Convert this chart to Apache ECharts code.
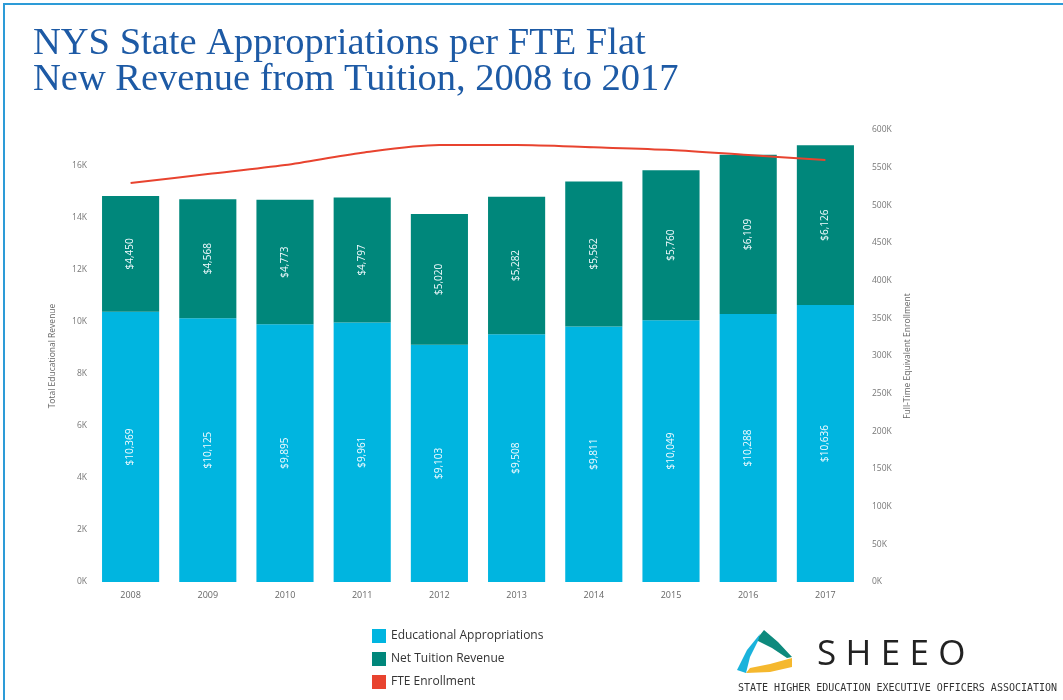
<!DOCTYPE html>
<html>
<head>
<meta charset="utf-8">
<title>NYS State Appropriations per FTE</title>
<script src="https://cdn.jsdelivr.net/npm/echarts@6/dist/echarts.min.js"></script>
<style>
    html, body { margin: 0; padding: 0; background: #fff; }
    #chart { width: 1063px; height: 700px; }
</style>
</head>
<body>
<div id="chart"></div>
<script>
// 数据
var years = ['2008', '2009', '2010', '2011', '2012', '2013', '2014', '2015', '2016', '2017'];
var appropriations = [10369, 10125, 9895, 9961, 9103, 9508, 9811, 10049, 10288, 10636];
var tuition = [4450, 4568, 4773, 4797, 5020, 5282, 5562, 5760, 6109, 6126];
// FTE 从图上估读
var enrollment = [529600, 541600, 553500, 569900, 580100, 580000, 577000, 573500, 566800, 560200];

var cyan = '#00b5e0';
var teal = '#00877b';
var red = '#e8432f';

function kFormat(v) {
    return (v / 1000) + 'K';
}

function money(p) {
    return '$' + p.value.toLocaleString('en-US');
}

var chart = echarts.init(document.getElementById('chart'));

var barLabel = {
    show: true,
    position: 'inside',
    rotate: 90,
    color: '#f2fbff',
    fontSize: 10,
    fontFamily: 'Open Sans',
    formatter: money
};

var option = {
    animation: false,
    title: {
        text: 'NYS State Appropriations per FTE Flat\nNew Revenue from Tuition, 2008 to 2017',
        left: 28,
        top: 21,
        textStyle: {
            fontFamily: 'Liberation Serif',
            fontWeight: 'normal',
            fontSize: 38.5,
            lineHeight: 36,
            color: '#1d5aa5'
        }
    },
    legend: {
        orient: 'vertical',
        left: 367,
        top: 624,
        itemWidth: 14,
        itemHeight: 14,
        itemGap: 9,
        icon: 'rect',
        selectedMode: false,
        textStyle: {
            fontFamily: 'Open Sans',
            fontSize: 12,
            color: '#333'
        },
        data: ['Educational Appropriations', 'Net Tuition Revenue', 'FTE Enrollment']
    },
    grid: {
        left: 92,
        right: 199,
        top: 130,
        bottom: 118
    },
    xAxis: {
        type: 'category',
        data: years,
        axisLine: {show: false},
        axisTick: {show: false},
        axisLabel: {
            margin: 9,
            fontSize: 9,
            fontFamily: 'Open Sans',
            color: '#666'
        }
    },
    yAxis: [
        {
            type: 'value',
            min: 0,
            max: 17350,
            interval: 2000,
            name: 'Total Educational Revenue',
            nameLocation: 'middle',
            nameGap: 35,
            nameTextStyle: {fontSize: 8.5, fontFamily: 'Open Sans', color: '#666'},
            splitLine: {show: false},
            axisLine: {show: false},
            axisTick: {show: false},
            axisLabel: {
                showMaxLabel: false,
                margin: 5,
                fontSize: 8.5,
                fontFamily: 'Open Sans',
                color: '#777',
                formatter: kFormat
            }
        },
        {
            type: 'value',
            min: 0,
            max: 600000,
            interval: 50000,
            name: 'Full-Time Equivalent Enrollment',
            nameLocation: 'middle',
            nameGap: 38,
            nameTextStyle: {fontSize: 8.5, fontFamily: 'Open Sans', color: '#666'},
            splitLine: {show: false},
            axisLine: {show: false},
            axisTick: {show: false},
            axisLabel: {
                margin: 8,
                fontSize: 8.5,
                fontFamily: 'Open Sans',
                color: '#777',
                formatter: kFormat
            }
        }
    ],
    series: [
        {
            name: 'Educational Appropriations',
            type: 'bar',
            stack: 'rev',
            barCategoryGap: '26%',
            itemStyle: {color: cyan},
            label: barLabel,
            data: appropriations
        },
        {
            name: 'Net Tuition Revenue',
            type: 'bar',
            stack: 'rev',
            itemStyle: {color: teal},
            label: barLabel,
            data: tuition
        },
        {
            name: 'FTE Enrollment',
            type: 'line',
            yAxisIndex: 1,
            smooth: 0.3,
            symbol: 'none',
            itemStyle: {color: red},
            lineStyle: {color: red, width: 2},
            data: enrollment
        }
    ],
    graphic: [
        // 外框
        {
            type: 'rect',
            shape: {x: 4, y: 4, width: 1100, height: 1000},
            style: {fill: 'none', stroke: '#2d9bd7', lineWidth: 2},
            silent: true
        },
        // SHEEO 标志
        {
            type: 'polygon',
            shape: {points: [[764, 630], [778, 642], [792, 657], [787, 658], [772, 648], [756, 640]]},
            style: {fill: '#0e8a7d'}
        },
        {
            type: 'polygon',
            shape: {points: [[746, 673], [770, 672], [792, 667], [792, 658], [770, 664], [750, 668]]},
            style: {fill: '#f5b82e'}
        },
        {
            type: 'polygon',
            shape: {points: [[760, 634], [747, 650], [737, 670], [746, 673], [750, 657], [758, 641]]},
            style: {fill: '#1ab3dc'}
        },
        {
            type: 'text',
            x: 817,
            y: 638,
            style: {
                text: 'S\u2009\u200AH\u2009\u200AE\u2009\u200AE\u2009\u200AO',
                fontFamily: 'Open Sans',
                fontSize: 35,
                fill: '#222'
            }
        },
        {
            type: 'text',
            x: 738,
            y: 683,
            style: {
                text: 'STATE HIGHER EDUCATION EXECUTIVE OFFICERS ASSOCIATION',
                fontFamily: 'DejaVu Sans Mono',
                fontSize: 10,
                fill: '#333'
            }
        }
    ]
};

chart.setOption(option);
</script>
</body>
</html>
